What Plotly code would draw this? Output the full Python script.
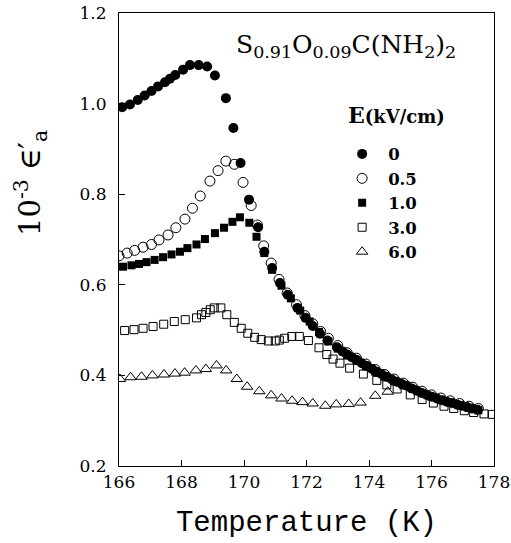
import plotly.graph_objects as go

# E = 0 kV/cm (filled circles)
t_e0 = [166.1, 166.35, 166.6, 166.82, 167.04, 167.25, 167.47, 167.63, 167.8, 168.05,
        168.27, 168.55, 168.82, 169.07, 169.42, 169.66, 169.89, 170.16, 170.45, 170.65,
        170.9, 171.15, 171.4, 171.71, 171.97, 172.2, 172.43, 172.67, 172.97, 173.15,
        173.3, 173.45, 173.61, 173.77, 173.93, 174.1, 174.25, 174.4, 174.57, 174.73,
        174.89, 175.05, 175.21, 175.37, 175.53, 175.69, 175.85, 176.01, 176.17, 176.33,
        176.49, 176.65, 176.81, 176.97, 177.13, 177.3, 177.47]
eps_e0 = [0.992, 0.998, 1.008, 1.018, 1.028, 1.038, 1.047, 1.055, 1.063, 1.075,
          1.085, 1.085, 1.082, 1.062, 1.012, 0.946, 0.869, 0.788, 0.727, 0.673,
          0.637, 0.604, 0.578, 0.549, 0.527, 0.509, 0.492, 0.477, 0.462, 0.453,
          0.446, 0.440, 0.434, 0.427, 0.421, 0.414, 0.408, 0.403, 0.397, 0.391,
          0.386, 0.381, 0.377, 0.371, 0.366, 0.361, 0.357, 0.353, 0.349, 0.345,
          0.342, 0.339, 0.336, 0.333, 0.330, 0.327, 0.324]

# E = 0.5 kV/cm (open circles)
t_e05 = [166.0, 166.26, 166.5, 166.77, 167.04, 167.28, 167.57, 167.82, 168.11, 168.35,
         168.6, 168.91, 169.17, 169.42, 169.69, 169.97, 170.23, 170.43, 170.63, 170.87,
         171.12, 171.38, 171.68, 171.95, 172.2, 172.45, 172.7, 173.0, 173.3, 173.6,
         173.9, 174.2, 174.5, 174.8, 175.1, 175.4, 175.7, 176.0, 176.3, 176.6,
         176.9, 177.2, 177.5]
eps_e05 = [0.664, 0.670, 0.676, 0.683, 0.689, 0.699, 0.710, 0.726, 0.745, 0.769,
           0.796, 0.829, 0.852, 0.873, 0.866, 0.826, 0.775, 0.732, 0.686, 0.648,
           0.612, 0.582, 0.556, 0.532, 0.514, 0.497, 0.482, 0.466, 0.450, 0.438,
           0.425, 0.413, 0.402, 0.392, 0.383, 0.374, 0.365, 0.357, 0.350, 0.344,
           0.338, 0.332, 0.327]

# E = 1.0 kV/cm (filled squares)
t_e1 = [166.13, 166.4, 166.64, 166.88, 167.14, 167.41, 167.68, 167.95, 168.19, 168.48,
        168.75, 169.07, 169.36, 169.63, 169.87, 170.17, 170.4, 170.65, 170.9, 171.2,
        171.5, 171.8, 172.1, 172.4, 172.7, 173.0, 173.3, 173.6, 173.9, 174.2,
        174.5, 174.8, 175.1, 175.4, 175.7, 176.0, 176.3, 176.6, 176.9, 177.2, 177.5]
eps_e1 = [0.640, 0.643, 0.646, 0.650, 0.655, 0.661, 0.667, 0.673, 0.681, 0.689,
          0.701, 0.714, 0.726, 0.739, 0.749, 0.737, 0.706, 0.670, 0.633, 0.598,
          0.570, 0.543, 0.519, 0.496, 0.475, 0.459, 0.444, 0.432, 0.420, 0.408,
          0.397, 0.387, 0.378, 0.370, 0.361, 0.353, 0.346, 0.340, 0.334, 0.328, 0.323]

# E = 3.0 kV/cm (open squares)
t_e3 = [166.18, 166.48, 166.77, 167.09, 167.43, 167.77, 168.12, 168.48, 168.64, 168.78,
        168.92, 169.05, 169.26, 169.45, 169.69, 169.91, 170.12, 170.34, 170.55, 170.78,
        171.0, 171.13, 171.3, 171.53, 171.77, 172.06, 172.4, 172.65, 172.85, 173.07,
        173.38, 173.82, 174.25, 174.57, 174.9, 175.32, 175.7, 176.06, 176.4, 176.71,
        177.05, 177.35, 177.68, 177.95]
eps_e3 = [0.499, 0.501, 0.504, 0.508, 0.513, 0.519, 0.523, 0.527, 0.534, 0.539,
          0.545, 0.549, 0.549, 0.534, 0.517, 0.504, 0.493, 0.484, 0.479, 0.476,
          0.476, 0.478, 0.482, 0.486, 0.486, 0.477, 0.461, 0.446, 0.436, 0.427,
          0.416, 0.403, 0.389, 0.379, 0.370, 0.357, 0.347, 0.339, 0.332, 0.327,
          0.322, 0.318, 0.315, 0.314]

# E = 6.0 kV/cm (open triangles)
t_e6 = [166.03, 166.37, 166.72, 167.07, 167.44, 167.79, 168.1, 168.46, 168.78, 169.12,
        169.43, 169.77, 170.1, 170.49, 170.87, 171.2, 171.54, 171.87, 172.2, 172.6,
        172.95, 173.35, 173.73, 174.2, 174.6]
eps_e6 = [0.392, 0.396, 0.397, 0.400, 0.402, 0.404, 0.406, 0.411, 0.414, 0.422,
          0.411, 0.392, 0.375, 0.365, 0.356, 0.349, 0.344, 0.341, 0.338, 0.333,
          0.336, 0.337, 0.340, 0.355, 0.364]

x_ticks = [166, 168, 170, 172, 174, 176, 178]
y_ticks = [0.2, 0.4, 0.6, 0.8, 1.0, 1.2]

SERIF = "DejaVu Serif"

fig = go.Figure()

# drawn back to front, legend ranks keep 0 ... 6.0 order
fig.add_trace(go.Scatter(
    x=t_e6, y=eps_e6, name="6.0", mode="markers", legendrank=5,
    marker=dict(symbol="triangle-up-open", size=10, color="black", line=dict(width=1))
))
fig.add_trace(go.Scatter(
    x=t_e3, y=eps_e3, name="3.0", mode="markers", legendrank=4,
    marker=dict(symbol="square-open", size=8, color="black", line=dict(width=1))
))
fig.add_trace(go.Scatter(
    x=t_e05, y=eps_e05, name="0.5", mode="markers", legendrank=2,
    marker=dict(symbol="circle-open", size=10, color="black", line=dict(width=1))
))
fig.add_trace(go.Scatter(
    x=t_e1, y=eps_e1, name="1.0", mode="markers", legendrank=3,
    marker=dict(symbol="square", size=8, color="black", line=dict(width=0))
))
fig.add_trace(go.Scatter(
    x=t_e0, y=eps_e0, name="0", mode="markers", legendrank=1,
    marker=dict(symbol="circle", size=10, color="black", line=dict(width=0))
))

fig.add_annotation(
    x=0.605, y=0.927, xref="paper", yref="paper", xanchor="center", yanchor="middle",
    showarrow=False,
    text="S<sub>0.91</sub>O<sub>0.09</sub>C(NH<sub>2</sub>)<sub>2</sub>",
    font=dict(family=SERIF, size=25, color="black")
)
fig.add_annotation(
    x=0.605, y=0.775, xref="paper", yref="paper", xanchor="left", yanchor="middle",
    showarrow=False,
    text="E<span style='font-size:18px'>(kV/cm)</span>",
    font=dict(family=SERIF, size=22, color="black", weight="bold")
)
# y axis title as a rotated annotation, it sits above the plot centre
fig.add_annotation(
    x=-0.237, y=0.625, xref="paper", yref="paper", xanchor="center", yanchor="middle",
    showarrow=False, textangle=-90,
    text="10<sup>-3</sup> \u2208\u2032<sub>a</sub>",
    font=dict(family=SERIF, size=29, color="black")
)

fig.update_layout(
    width=511, height=543,
    margin=dict(l=119, r=17, t=13, b=77),
    plot_bgcolor="white", paper_bgcolor="white",
    font=dict(family=SERIF, size=17, color="black"),
    showlegend=True,
    legend=dict(
        x=0.579, y=0.727, xanchor="left", yanchor="top",
        bgcolor="rgba(0,0,0,0)", borderwidth=0,
        font=dict(family=SERIF, size=16.5, color="black", weight="bold"),
        tracegroupgap=0, itemwidth=42,
    ),
    xaxis=dict(
        range=[166, 178], tickvals=x_ticks, ticktext=[str(v) for v in x_ticks],
        ticks="inside", ticklen=6, tickcolor="black",
        showline=True, linecolor="black", linewidth=1.2, mirror=True,
        showgrid=False, zeroline=False, automargin=False,
        title=dict(text="Temperature (K)", standoff=20,
                   font=dict(family="Liberation Mono", size=29, color="black")),
    ),
    yaxis=dict(
        range=[0.2, 1.2], tickvals=y_ticks, ticktext=["%.1f" % v for v in y_ticks],
        ticks="inside", ticklen=6, tickcolor="black",
        showline=True, linecolor="black", linewidth=1.2, mirror=True,
        showgrid=False, zeroline=False, ticklabelstandoff=8, automargin=False,
    ),
)

# the page body has a default 8px margin, drop it so the figure fills the window
fig.write_html("out.html", config={"displayModeBar": False},
               post_script="document.body.style.margin='0px';")
